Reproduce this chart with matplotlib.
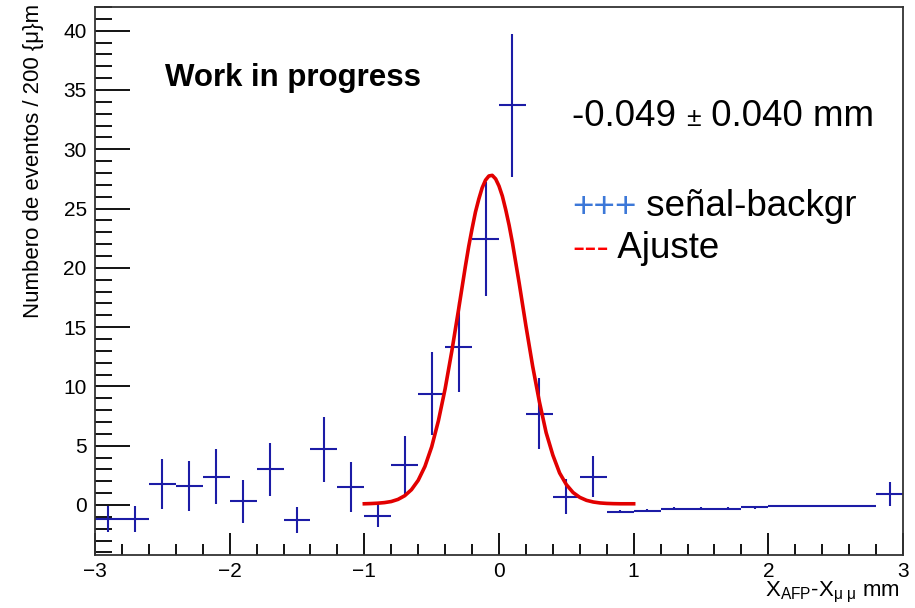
import numpy as np
import matplotlib
matplotlib.use("Agg")
import matplotlib.pyplot as plt
from matplotlib.ticker import MultipleLocator

plt.rcParams['font.family'] = ['Liberation Sans', 'DejaVu Sans']
plt.rcParams['mathtext.fontset'] = 'custom'
plt.rcParams['mathtext.rm'] = 'Liberation Sans'
plt.rcParams['mathtext.it'] = 'Liberation Sans:italic'

# histogram (signal - background), bin width 0.2 mm
bin_centers = [-2.9, -2.7, -2.5, -2.3, -2.1, -1.9, -1.7, -1.5, -1.3, -1.1,
               -0.9, -0.7, -0.5, -0.3, -0.1, 0.1, 0.3, 0.5, 0.7, 0.9,
               1.1, 1.3, 1.5, 1.7, 1.9, 2.1, 2.3, 2.5, 2.7, 2.9]
counts = [-1.2, -1.2, 1.8, 1.6, 2.4, 0.3, 3.0, -1.3, 4.7, 1.5,
          -0.9, 3.4, 9.4, 13.3, 22.4, 33.7, 7.7, 0.7, 2.4, -0.56,
          -0.48, -0.31, -0.31, -0.31, -0.2, -0.08, -0.08, -0.08, -0.08, 0.9]
count_err = [1.1, 1.1, 2.1, 2.1, 2.3, 1.8, 2.25, 1.1, 2.75, 2.1,
             1.0, 2.45, 3.5, 3.8, 4.8, 6.0, 3.0, 1.45, 1.7, 0.14,
             0.12, 0.12, 0.12, 0.12, 0.12, 0.1, 0.1, 0.1, 0.1, 1.0]
half_width = 0.1

# fitted curve
fit_x = [-1.00, -0.95, -0.90, -0.85, -0.80, -0.75, -0.70, -0.65, -0.60, -0.55,
         -0.50, -0.45, -0.40, -0.35, -0.30, -0.275, -0.25, -0.225, -0.20, -0.175,
         -0.15, -0.125, -0.10, -0.075, -0.05, -0.025, 0.00, 0.025, 0.05, 0.075,
         0.10, 0.125, 0.15, 0.175, 0.20, 0.25, 0.30, 0.35, 0.40, 0.45,
         0.50, 0.55, 0.60, 0.65, 0.70, 0.75, 0.80, 0.85, 0.90, 0.95, 1.00]
fit_y = [0.10, 0.12, 0.15, 0.20, 0.29, 0.47, 0.78, 1.29, 2.08, 3.25,
         4.9, 7.1, 9.8, 13.0, 16.5, 18.3, 20.1, 21.8, 23.3, 24.7,
         25.8, 26.75, 27.4, 27.75, 27.8, 27.5, 26.9, 26.05, 24.9, 23.6,
         22.1, 20.4, 18.7, 16.9, 15.1, 11.7, 8.7, 6.1, 4.2, 2.7,
         1.72, 1.05, 0.64, 0.39, 0.25, 0.17, 0.13, 0.11, 0.10, 0.10, 0.10]

blue = '#1c1ca6'
red = '#e20000'

fig = plt.figure(figsize=(9.15, 6.08), dpi=100)
ax = fig.add_axes([95/915, 1 - 555/608, (903 - 95)/915, (555 - 7)/608])

ax.errorbar(bin_centers, counts, xerr=half_width, yerr=count_err, fmt='none',
            ecolor=blue, elinewidth=1.5, capsize=0)
ax.plot(fit_x, fit_y, color=red, lw=2.6, solid_joinstyle='round')

ax.set_xlim(-3, 3)
ax.set_ylim(-4.22, 42.0)
ax.xaxis.set_major_locator(MultipleLocator(1))
ax.xaxis.set_minor_locator(MultipleLocator(0.2))
ax.yaxis.set_major_locator(MultipleLocator(5))
ax.yaxis.set_minor_locator(MultipleLocator(1))
ax.tick_params(axis='x', which='major', direction='in', length=16, width=1.3,
               labelsize=15, pad=5, top=False)
ax.tick_params(axis='x', which='minor', direction='in', length=8, width=1.3, top=False)
ax.tick_params(axis='y', which='major', direction='in', length=25, width=1.3,
               labelsize=15, pad=6, right=False)
ax.tick_params(axis='y', which='minor', direction='in', length=12, width=1.3, right=False)
for sp in ax.spines.values():
    sp.set_linewidth(1.3)
    sp.set_color('#333333')

fig.text(34/915, 1 - 4/608, 'Numbero de eventos / 200 {μ}m', rotation=90,
         ha='center', va='top', fontsize=16)
fig.text(900/915, 1 - 592/608, r'X$_{\mathrm{AFP}}$-X$_{\mathrm{μ\ μ}}$ mm',
         ha='right', va='center', fontsize=16)

fig.text(165/915, 1 - 78/608, 'Work in progress', fontsize=22.5, fontweight='bold',
         ha='left', va='center')

# fit result, with a smaller plus-minus sign
m1 = fig.text(572/915, 1 - 116/608, '-0.049 ', fontsize=26.5, ha='left', va='center')
m2 = ax.annotate('±', xy=(1, 0.42), xycoords=m1, fontsize=19, ha='left', va='center')
ax.annotate(' 0.040 mm', xy=(1, 0.5), xycoords=(m2, m1), fontsize=26.5,
            ha='left', va='center')

t1 = fig.text(572/915, 1 - 207/608, '+++', color='#3c78d8', fontsize=26.5,
              ha='left', va='center')
ax.annotate(' señal-backgr', xy=(1, 0.5), xycoords=t1, fontsize=26.5,
            ha='left', va='center')
t2 = fig.text(572/915, 1 - 248/608, '---', color='#ff0000', fontsize=26.5,
              ha='left', va='center')
ax.annotate(' Ajuste', xy=(1, 0.5), xycoords=t2, fontsize=26.5,
            ha='left', va='center')

fig.savefig('out.png', dpi=100)
